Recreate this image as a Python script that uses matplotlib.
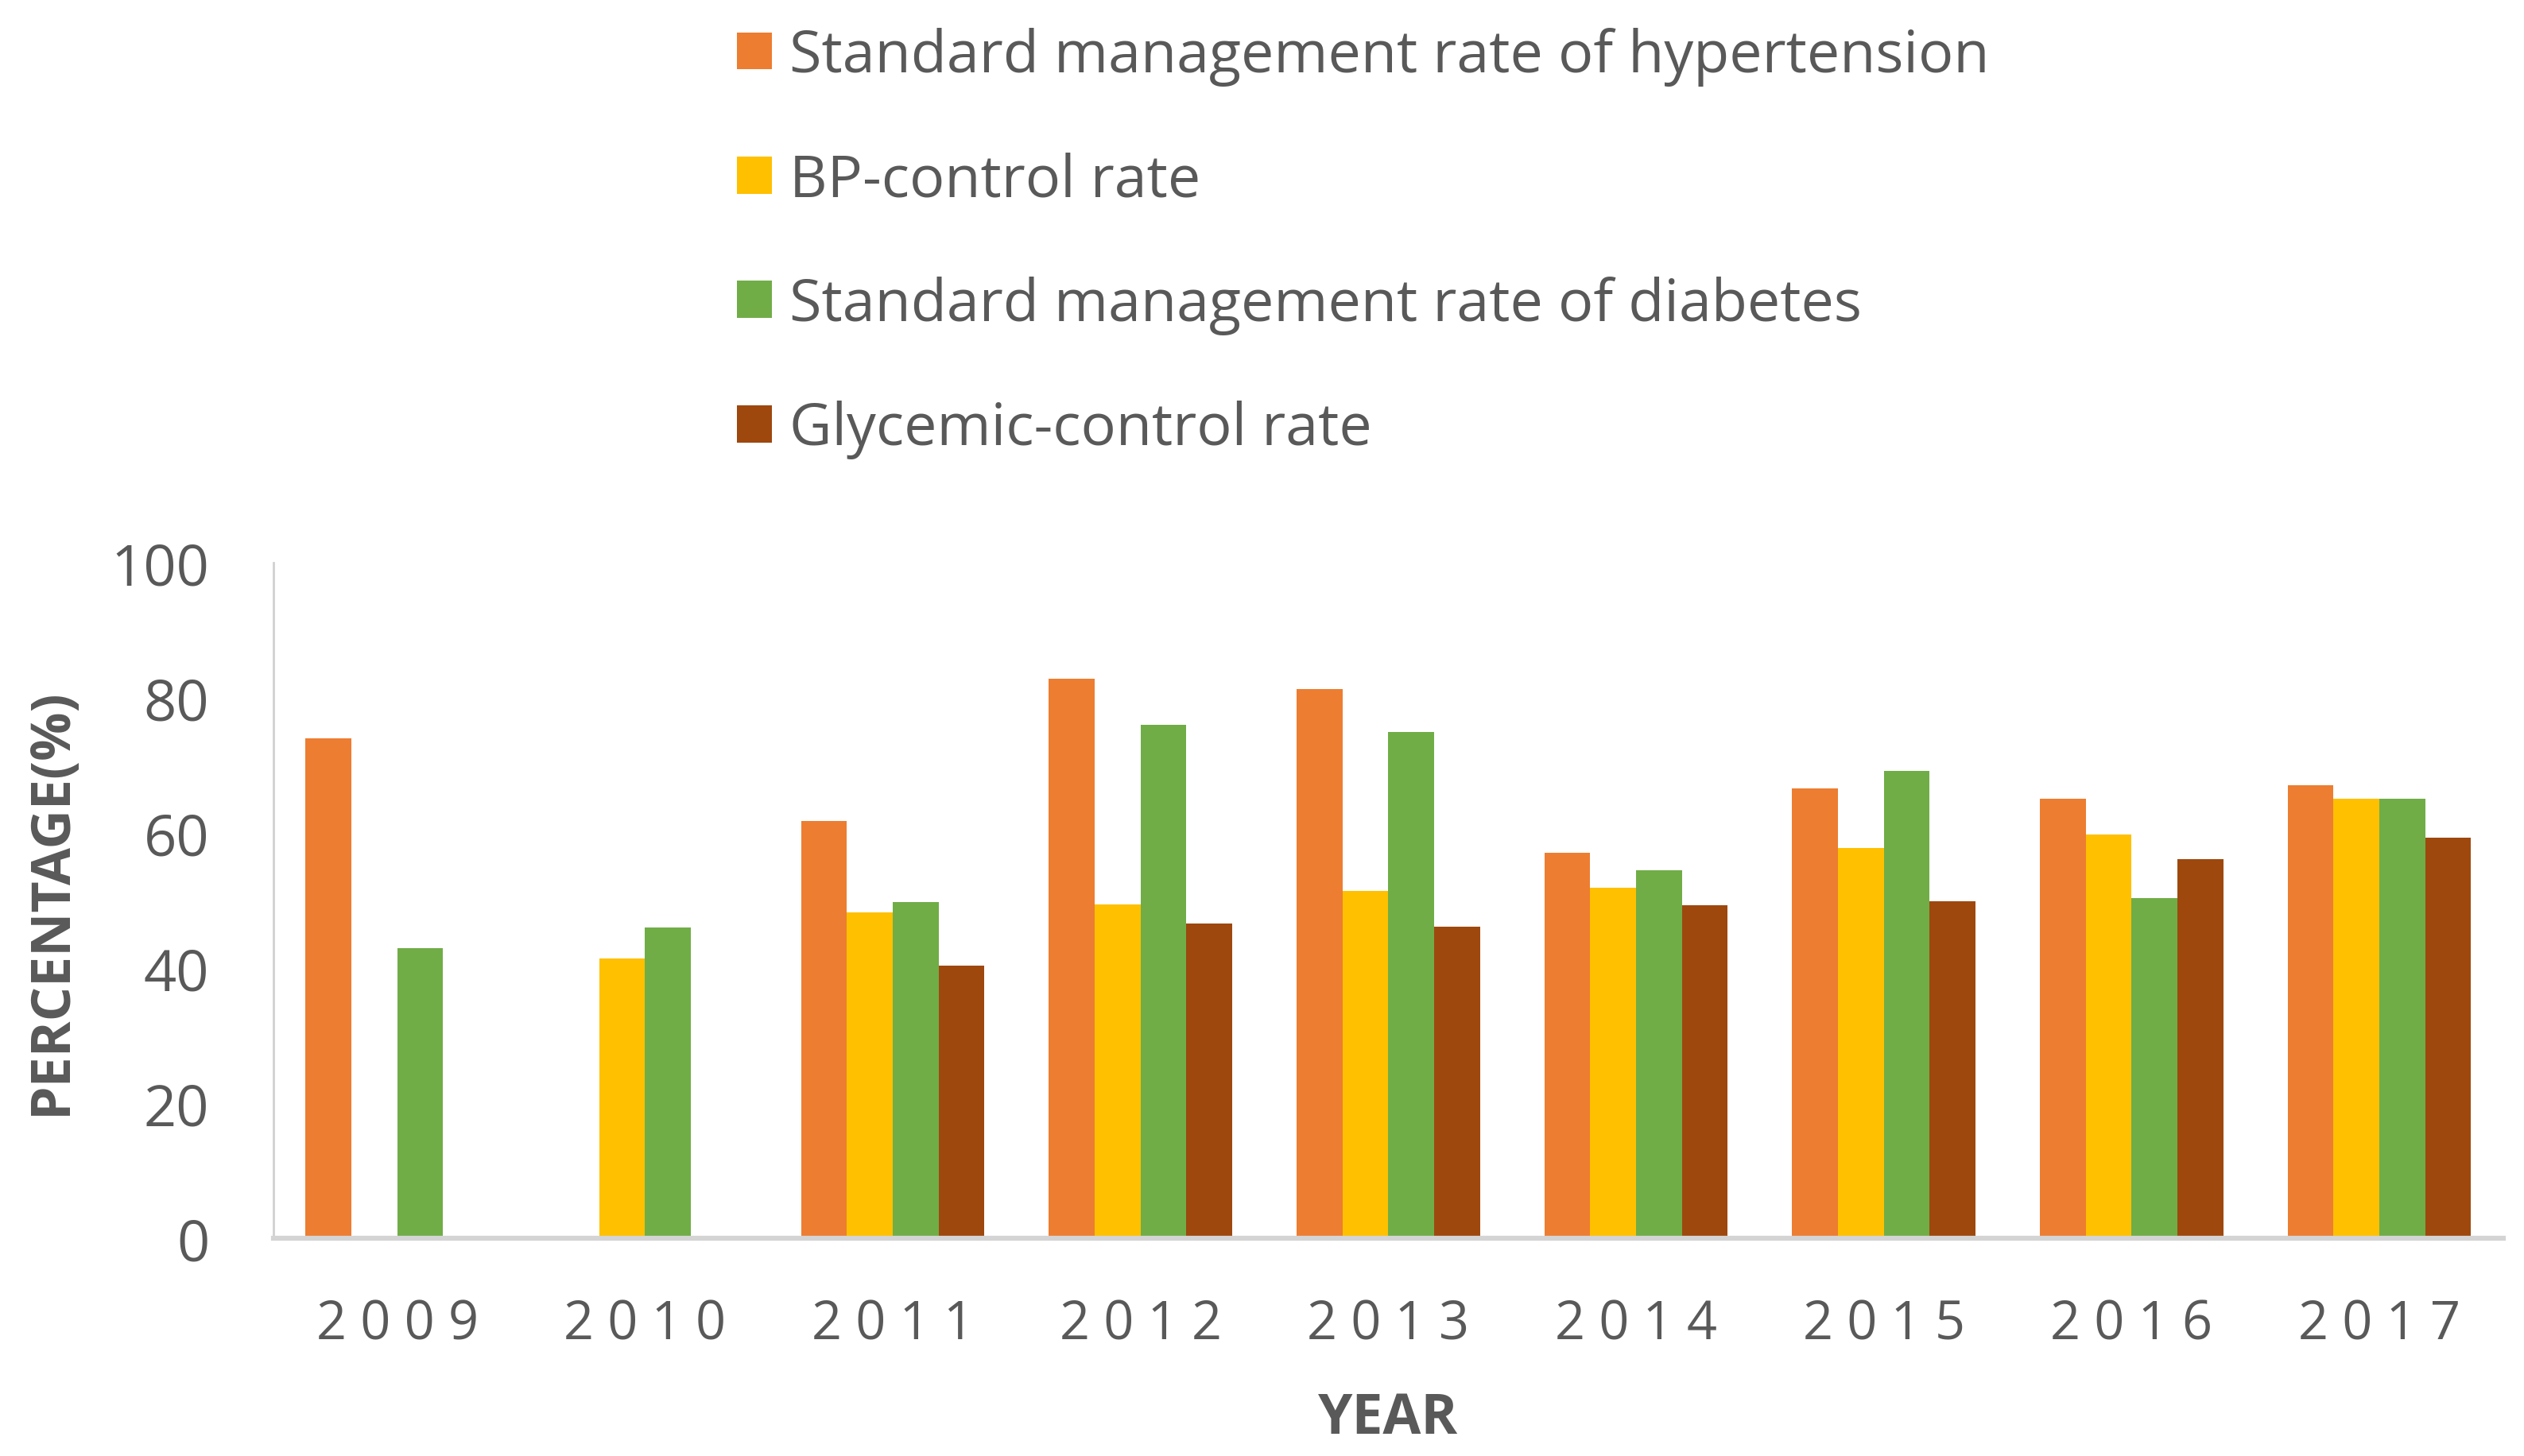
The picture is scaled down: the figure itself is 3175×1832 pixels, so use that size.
import numpy as np
import matplotlib
matplotlib.use('Agg')
import matplotlib.pyplot as plt
from matplotlib.patches import Patch

# donnees
years = ['2009', '2010', '2011', '2012', '2013', '2014', '2015', '2016', '2017']
series_names = ['Standard management rate of hypertension', 'BP-control rate',
                'Standard management rate of diabetes', 'Glycemic-control rate']
hypertension = [74.0, np.nan, 61.8, 82.8, 81.3, 57.0, 66.6, 65.0, 67.1]
bp_control = [np.nan, 41.4, 48.2, 49.4, 51.4, 51.9, 57.8, 59.8, 65.0]
diabetes = [42.9, 46.0, 49.8, 76.0, 74.9, 54.5, 69.2, 50.3, 65.0]
glycemic = [np.nan, np.nan, 40.4, 46.6, 46.1, 49.3, 49.9, 56.1, 59.3]
colors = ['#ED7D31', '#FFC000', '#70AD47', '#9E480E']

plt.rcParams['font.family'] = ['Open Sans', 'DejaVu Sans']
grey = '#595959'

fig = plt.figure(figsize=(31.75, 18.33), dpi=100)
ax = fig.add_axes([0.1083, 0.1495, 0.8835, 0.4637])

x = np.arange(len(years)); w = 0.185
data = [hypertension, bp_control, diabetes, glycemic]
for i, vals in enumerate(data):
    ax.bar(x + (i - 1.5) * w, vals, width=w, color=colors[i], linewidth=0, zorder=2)

ax.set_xlim(-0.5, len(years) - 0.5)
ax.set_ylim(0, 100)
ax.set_yticks([0, 20, 40, 60, 80, 100])
ax.set_xticks(x)
ax.set_xticklabels([' '.join(y) for y in years])

for s in ['top', 'right']:
    ax.spines[s].set_visible(False)
ax.spines['left'].set_color('#d0d0d0'); ax.spines['left'].set_linewidth(2)
ax.spines['bottom'].set_color('#d4d4d4'); ax.spines['bottom'].set_linewidth(4.5)
ax.spines['bottom'].set_zorder(3)

ax.tick_params(axis='y', length=0, pad=58, labelsize=52, labelcolor=grey)
ax.tick_params(axis='x', length=0, pad=54, labelsize=48, labelcolor=grey)

ax.set_ylabel('PERCENTAGE(%)', fontsize=49, fontweight='bold', color=grey, va='center')
ax.yaxis.set_label_coords(-0.0995, 0.5)
ax.set_xlabel('YEAR', fontsize=50, fontweight='bold', color=grey, va='center')
ax.xaxis.set_label_coords(0.5, -0.267)

handles = [Patch(facecolor=c, edgecolor='none') for c in colors]
fig.legend(handles, series_names, loc='upper left', bbox_to_anchor=(0.2895, 0.985),
           frameon=False, fontsize=53, labelcolor=grey, handlelength=0.6, handleheight=0.6,
           handletextpad=0.3, labelspacing=1.12, borderpad=0, borderaxespad=0.1)

fig.savefig('out.png', dpi=100, facecolor='white')
